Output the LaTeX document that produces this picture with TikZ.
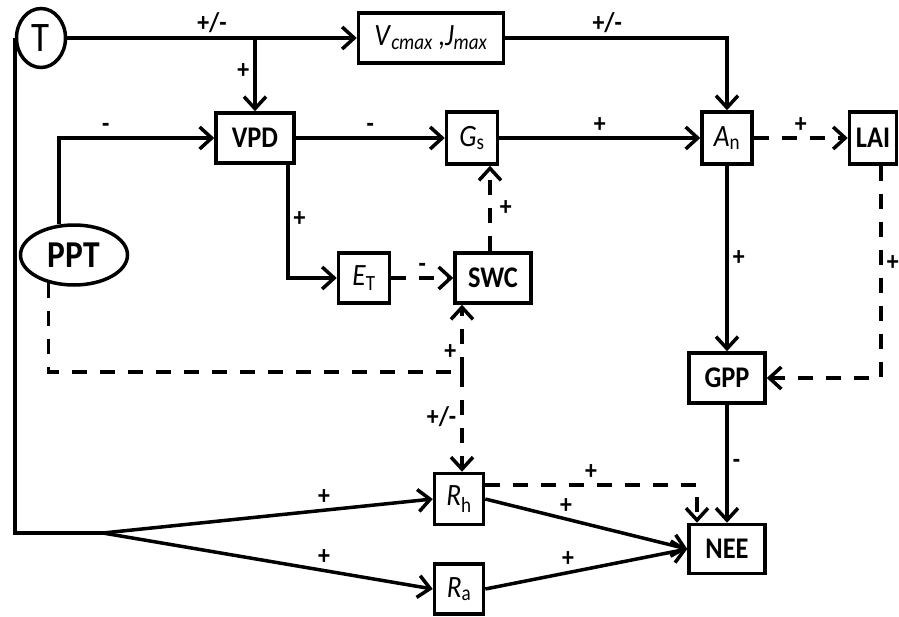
\documentclass[tikz,border=0pt]{standalone}
\usepackage{fontspec}
\setmainfont{Carlito}[FakeStretch=0.88]
\usetikzlibrary{shapes,arrows.meta}

\newcommand{\symb}[2]{\textit{#1}\textsubscript{#2}}

\begin{document}
\begin{tikzpicture}[auto, x=1pt, y=1pt, node distance=100pt, >={Straight Barb[length=12pt,width=22pt]}]
			\tikzset{
				block/.style={rectangle, draw=black, line width=3.5pt, minimum height=50pt, inner sep=0pt, text centered, font=\bfseries\fontsize{30}{30}\selectfont},
				varblock/.style={block, font=\fontsize{31}{31}\selectfont},
				driver/.style={ellipse, draw=black, line width=3.5pt, inner sep=0pt, font=\bfseries\fontsize{38}{38}\selectfont},
				arrow/.style={line width=3.5pt,->},
				dasharrow/.style={arrow, dash pattern=on 15pt off 13pt},
				dashline/.style={line width=3.5pt, dash pattern=on 15pt off 13pt},
				sign/.style={font=\bfseries\fontsize{27}{27}\selectfont, inner sep=4pt},
			}
			\useasboundingbox (0,0) rectangle (899,-616);
			\node[driver, minimum width=49pt, minimum height=59pt, font=\fontsize{42}{42}\selectfont] (T) at (41,-38) {T};
			\node[varblock, right of=T, xshift=290, minimum width=145pt](Vc){\symb{V}{\textit{cmax}}\,,\symb{J}{\textit{max}}};
			\node[block, below of=T, xshift=214, minimum width=78pt](VPD){VPD};
			\node[varblock, right of=VPD, xshift=117, minimum width=51pt, minimum height=52pt](Gs){\symb{G}{s}};
			\node[varblock, right of=Gs, xshift=155, minimum width=50pt, minimum height=52pt](An){\symb{A}{n}};
			\node[block, right of=An, xshift=46, minimum width=47pt, minimum height=52pt](LAI){LAI};
			\node[driver, below of=T, xshift=33, yshift=-117, minimum width=107pt, minimum height=60pt](PPT){PPT};
			\node[varblock, below of=VPD, xshift=109, yshift=-40, minimum width=51pt](ET){\symb{E}{T}};
			\node[block, right of=ET, xshift=29, minimum width=76pt](SWC){SWC};
			\node[block, below of=An, yshift=-140, minimum width=76pt](GPP){GPP};
			\node[block, below of=GPP, yshift=-71, minimum width=76pt, minimum height=49pt](NEE){NEE};
			\node[varblock, left of=NEE, xshift=-168, yshift=50, minimum width=49pt, minimum height=51pt](Rh){\symb{R}{h}};
			\node[varblock, below of=Rh, yshift=10, minimum width=49pt](Ra){\symb{R}{a}};
			\coordinate[below of=SWC, xshift=-31, yshift=6] (jn);
			\coordinate[left of=Rh, xshift=-256, yshift=-34] (fork);
			\coordinate (tap) at (VPD |- T);
			%draw arrows
			\draw[arrow] (T) -- node[sign, above] {+/-} (Vc);
			\draw[arrow] (tap) -- node[sign, left, pos=0.45] {+} (VPD);
			\draw[arrow] (Vc) -| node[sign, above, pos=0.23] {+/-} (An);
			\draw[arrow] (VPD) -- node[sign, above] {-} (Gs);
			\draw[arrow] (Gs) -- node[sign, above] {+} (An);
			\draw[dasharrow] (An) -- node[sign, above] {+} (LAI);
			\draw[arrow] (PPT.116) |- node[sign, above, pos=0.65] {-} (VPD);
			\draw[arrow] ([xshift=-8pt]VPD.south east) |- node[sign, right, pos=0.24] {+} (ET);
			\draw[dasharrow] (ET) -- node[sign, above] {-} (SWC);
			\draw[dasharrow] ([xshift=-3pt]SWC.north) -- node[sign, right, inner sep=8pt] {+} ([xshift=-3pt]SWC.north |- Gs.south);
			\draw[dashline] (PPT.228) |- (jn);
			\draw[dasharrow] (jn) -- node[sign, left, pos=0.3] {+} (jn |- SWC.south);
			\draw[dasharrow] (jn) -- node[sign, left, pos=0.45] {+/-} (jn |- Rh.north);
			\draw[arrow] (An) -- node[sign, right] {+} (GPP);
			\draw[dasharrow] ([xshift=8pt]LAI.south) |- node[sign, right, pos=0.23] {+} (GPP);
			\draw[arrow] (GPP) -- node[sign, right] {-} (NEE);
			\draw[dasharrow] ([yshift=14pt]Rh.east) -| node[sign, above, pos=0.25] {+} ([xshift=-30pt]NEE.north);
			\draw[arrow] (Rh.east) -- node[sign, above, pos=0.4] {+} (NEE.west);
			\draw[arrow] (Ra.east) -- node[sign, above, pos=0.41] {+} (NEE.west);
			\draw[line width=3.5pt] (T.west) |- (fork);
			\draw[arrow] (fork) -- node[sign, above, pos=0.67] {+} (Rh.west);
			\draw[arrow] (fork) -- node[sign, above, pos=0.67] {+} (Ra.west);
		\end{tikzpicture}
\end{document}
